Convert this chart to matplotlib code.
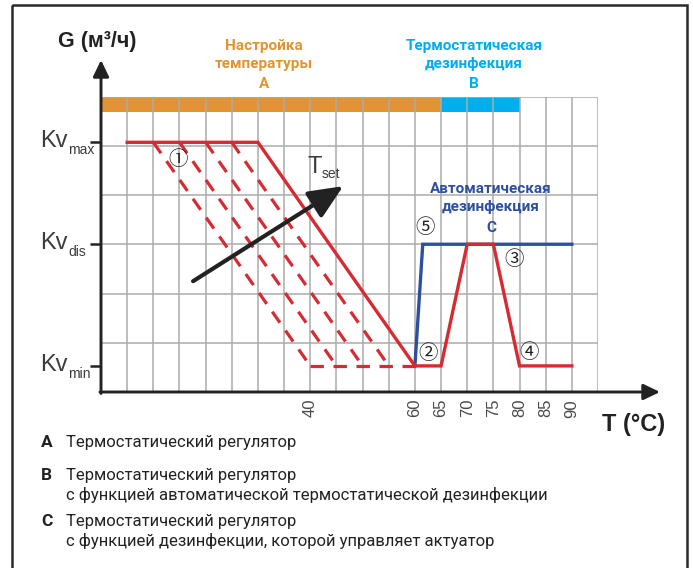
import matplotlib
matplotlib.use("Agg")
import matplotlib.pyplot as plt
from matplotlib import font_manager
from matplotlib.patches import Rectangle
from matplotlib.transforms import Affine2D

W, H, DPI = 693, 568, 100

# ---- values -------------------------------------------------------------
temp_ticks = [40, 60, 65, 70, 75, 80, 85, 90]
grid_x = list(range(5, 100, 5))
grid_y = [1, 2, 3, 4, 5, 6]

kv_names = ["max", "dis", "min"]
kv_values = [5.07, 3.0, 0.53]
kv_max, kv_dis, kv_min = kv_values

# thermostatic regulation curve (solid)
curve_a_x = [5, 30, 60]
curve_a_y = [kv_max, kv_max, kv_min]
# shifted set-point curves (dashed)
setpoint_top_x = [10, 15, 20, 25]
setpoint_bottom_x = [40, 45, 50, 55]
floor_x = [40, 60]
# thermostatic disinfection curve
curve_b_x = [60, 65, 70, 75, 80, 90]
curve_b_y = [kv_min, kv_min, kv_dis, kv_dis, kv_min, kv_min]
# actuator-driven disinfection curve
curve_c_x = [60, 61.5, 90]
curve_c_y = [kv_min, kv_dis, kv_dis]

zone_a = (0, 65)
zone_b = (65, 80)
band_y = (5.69, 6.0)

tset_arrow = ((17.6, 2.25), (46.3, 4.18))

markers = ["①", "②", "③", "④", "⑤"]
marker_x = [14.7, 62.5, 79.0, 81.9, 61.9]
marker_y = [4.73, 0.79, 2.70, 0.81, 3.33]

title_a = ["Настройка", "температуры", "A"]
title_b = ["Термостатическая", "дезинфекция", "B"]
title_c = ["Автоматическая", "дезинфекция", "C"]

legend_keys = ["A", "B", "C"]
legend_lines = [
    ["Термостатический регулятор"],
    ["Термостатический регулятор",
     "с функцией автоматической термостатической дезинфекции"],
    ["Термостатический регулятор",
     "с функцией дезинфекции, которой управляет актуатор"],
]

# ---- styling ------------------------------------------------------------
RED = "#d52b33"
BLUE = "#2c4f9e"
ORANGE = "#e29434"
CYAN = "#00aeef"
DARK = "#222222"
GRID = "#ababab"
TXT = "#3c3c3c"

names = {f.name for f in font_manager.fontManager.ttflist}
def first_font(cands):
    for c in cands:
        if c in names:
            return c
    return "DejaVu Sans"

NARROW = first_font(["Liberation Sans Narrow", "DejaVu Sans Condensed", "Roboto", "Noto Sans"])
BODY = first_font(["Roboto", "Noto Sans", "Open Sans", "DejaVu Sans"])
HELV = first_font(["Liberation Sans", "DejaVu Sans"])
CIRC = ["Noto Sans CJK JP", "DejaVu Sans"]

fig = plt.figure(figsize=(W / DPI, H / DPI), dpi=DPI)
px = Affine2D().scale(1 / W, -1 / H).translate(0, 1) + fig.transFigure

# outer frame
fig.patches.append(Rectangle((12, 5), 675, 600, transform=px, fill=False,
                             lw=1.8, ec="#2a2a2a", zorder=0))

ax = fig.add_axes([101 / W, 1 - 392 / H, 497 / W, 295.5 / H])
ax.set_xlim(0, 95)
ax.set_ylim(0, 6)
ax.patch.set_visible(False)
for s in ax.spines.values():
    s.set_visible(False)

# grid
ax.vlines(grid_x, 0, 6, colors=GRID, lw=1.1, zorder=2)
ax.hlines(grid_y, 0, 95, colors=GRID, lw=1.1, zorder=2)

# zone bands
ax.fill_between(zone_a, band_y[0], band_y[1], color=ORANGE, lw=0, zorder=1)
ax.fill_between(zone_b, band_y[0], band_y[1], color=CYAN, lw=0, zorder=1)

# curves
dash = dict(color=RED, lw=2.3, dashes=(4.2, 3.0), solid_capstyle="butt",
            dash_capstyle="butt", zorder=4)
for xt, xb in zip(setpoint_top_x, setpoint_bottom_x):
    ax.plot([xt, xb], [kv_max, kv_min], **dash)
ax.plot(floor_x, [kv_min, kv_min], **dash)
ax.plot(curve_c_x, curve_c_y, color=BLUE, lw=2.4, zorder=5, solid_joinstyle="miter")
ax.plot(curve_b_x, curve_b_y, color=RED, lw=2.4, zorder=6, solid_joinstyle="miter")
ax.plot(curve_a_x, curve_a_y, color=RED, lw=2.4, zorder=6, solid_joinstyle="miter")

# set-point arrow
ax.annotate("", xy=tset_arrow[1], xytext=tset_arrow[0],
            arrowprops=dict(arrowstyle="-|>,head_length=0.95,head_width=0.42",
                            mutation_scale=22, lw=3.0, color=DARK,
                            shrinkA=0, shrinkB=0), zorder=7)

# axes with arrow heads
x_tip = (660 - 101) / (497 / 95)
y_tip = (392 - 60) / (295.5 / 6)
ax_arrow = dict(arrowstyle="-|>,head_length=1.0,head_width=0.48",
                mutation_scale=10, lw=2.1, color=DARK, shrinkA=0, shrinkB=0)
ax.annotate("", xy=(x_tip, 0), xytext=(-0.2, 0), arrowprops=ax_arrow,
            annotation_clip=False, zorder=8)
ax.annotate("", xy=(0, y_tip), xytext=(0, -0.03), arrowprops=ax_arrow,
            annotation_clip=False, zorder=8)

# ticks
ax.set_xticks(temp_ticks)
ax.set_xticklabels([str(t) for t in temp_ticks], rotation=90,
                   fontsize=12, color="#4a4a4a", family=HELV)
ax.tick_params(axis="x", length=0, pad=5)
ax.set_yticks(kv_values)
ax.set_yticklabels([])
ax.tick_params(axis="y", length=8, width=1.8, color=DARK, direction="out")

# Kv labels
for name, v in zip(kv_names, kv_values):
    ax.annotate("Kv", xy=(0, v), xytext=(-61, -5), textcoords="offset pixels",
                fontsize=17, color=TXT, family=HELV, va="baseline", ha="left",
                annotation_clip=False)
    ax.annotate(name, xy=(0, v), xytext=(-33, -12), textcoords="offset pixels",
                fontsize=10, color=TXT, family=HELV, va="baseline", ha="left",
                annotation_clip=False)

# T_set label
fig.text(308, 173, "T", transform=px, fontsize=17, color=TXT, family=HELV,
         va="baseline", ha="left")
fig.text(322, 178, "set", transform=px, fontsize=10, color=TXT, family=HELV,
         va="baseline", ha="left")

# circled markers
for m, mx, my in zip(markers, marker_x, marker_y):
    ax.text(mx, my, m, fontsize=14, family=CIRC, color="#1e1e1e",
            ha="center", va="center", zorder=9)

# axis titles
fig.text(97, 47, "G (м³/ч)", transform=px, fontsize=15.5, fontweight="bold",
         family=HELV, color=DARK, ha="center", va="baseline")
fig.text(634, 431, "T (°C)", transform=px, fontsize=17, fontweight="bold",
         family=HELV, color=DARK, ha="center", va="baseline")

# zone titles
def block(lines, cx, baselines, color, size):
    for ln, by in zip(lines, baselines):
        fig.text(cx, by, ln, transform=px, fontsize=size, fontweight="bold",
                 family=NARROW, color=color, ha="center", va="baseline")

TS = 11
block(title_a, 264, [50, 68, 88], "#e0952f", TS)
block(title_b, 474, [50, 68, 88], CYAN, TS)
block(title_c, 491, [193, 211, 232], BLUE, TS)

# legend
key_base = [447, 480, 526]
LS = 12
for key, lines, by in zip(legend_keys, legend_lines, key_base):
    fig.text(41, by, key, transform=px, fontsize=12.5, fontweight="bold",
             family=NARROW, color=DARK, ha="left", va="baseline")
    for i, ln in enumerate(lines):
        fig.text(66, by + 20 * i, ln, transform=px, fontsize=LS,
                 family=BODY, color=DARK, ha="left", va="baseline")

fig.savefig("out.png", dpi=DPI)
